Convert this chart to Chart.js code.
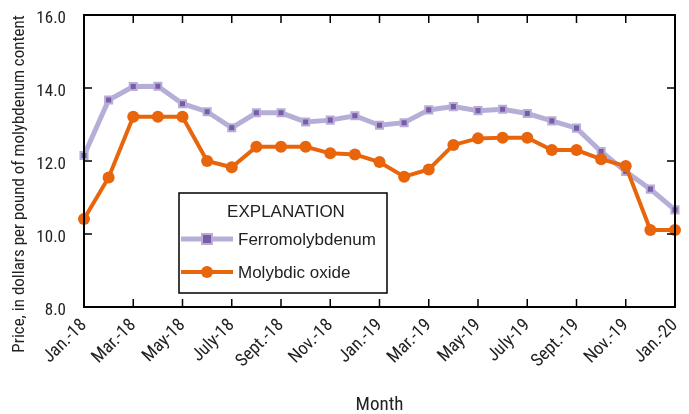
<!DOCTYPE html>
<html>
<head>
<meta charset="utf-8">
<script src="https://cdn.jsdelivr.net/npm/chart.js@4"></script>
<style>
html,body{margin:0;padding:0;background:#fff;}
#wrap{width:689px;height:414px;position:relative;}
</style>
</head>
<body>
<div id="wrap"><canvas id="c" width="689" height="414"></canvas></div>
<script>
const months = ["Jan.-18","Feb.-18","Mar.-18","Apr.-18","May-18","June-18","July-18","Aug.-18","Sept.-18","Oct.-18","Nov.-18","Dec.-18",
"Jan.-19","Feb.-19","Mar.-19","Apr.-19","May-19","June-19","July-19","Aug.-19","Sept.-19","Oct.-19","Nov.-19","Dec.-19","Jan.-20"];
const ferromolybdenum = [12.15,13.67,14.04,14.05,13.57,13.35,12.91,13.32,13.32,13.07,13.12,13.24,
12.98,13.05,13.40,13.49,13.38,13.42,13.30,13.10,12.90,12.26,11.71,11.23,10.66];
const molybdicOxide = [10.41,11.55,13.21,13.21,13.21,12.00,11.83,12.39,12.39,12.39,12.21,12.18,
11.97,11.57,11.77,12.44,12.62,12.64,12.64,12.30,12.30,12.05,11.86,10.11,10.11];
const yTicks = [8,10,12,14,16];
const yTitle = 'Price, in dollars per pound of molybdenum content';
const xTitle = 'Month';

const AXIS_FONT = "Roboto, 'Liberation Sans', Arial, sans-serif";
const LEG_FONT = "'Liberation Sans', Arial, sans-serif";
const FERRO_LINE = '#b5afd8';
const FERRO_FILL = '#7b5ba6';
const OXIDE = '#e8650c';
const TXT = '#222';

const framePlugin = {
  id: 'frame',
  afterDatasetsDraw(chart) {
    const {ctx, chartArea: a, scales: {x, y}} = chart;
    ctx.save();
    ctx.strokeStyle = '#000';
    ctx.lineWidth = 2;
    ctx.strokeRect(a.left, a.top, a.right - a.left, a.bottom - a.top);
    ctx.lineWidth = 1.5;
    const tl = 8;
    ctx.beginPath();
    yTicks.forEach(v => {
      const py = y.getPixelForValue(v);
      ctx.moveTo(a.left, py); ctx.lineTo(a.left + tl, py);
      ctx.moveTo(a.right, py); ctx.lineTo(a.right - tl, py);
    });
    months.forEach((m, i) => {
      if (i % 2) return;
      const px = x.getPixelForValue(i);
      ctx.moveTo(px, a.bottom); ctx.lineTo(px, a.bottom - tl);
      ctx.moveTo(px, a.top); ctx.lineTo(px, a.top + tl);
    });
    ctx.stroke();
    ctx.restore();
  },
  afterDraw(chart) {
    const ctx = chart.ctx;
    ctx.save();
    // y-axis title
    ctx.save();
    ctx.translate(20, 184);
    ctx.rotate(-Math.PI / 2);
    ctx.fillStyle = TXT;
    ctx.font = 'condensed 17px ' + AXIS_FONT;
    ctx.textAlign = 'center';
    ctx.textBaseline = 'middle';
    ctx.fillText(yTitle, 0, 0);
    ctx.restore();
    // legend box
    const bx = 179, by = 193, bw = 208, bh = 100;
    ctx.fillStyle = '#fff';
    ctx.fillRect(bx, by, bw, bh);
    ctx.strokeStyle = '#000';
    ctx.lineWidth = 1.5;
    ctx.strokeRect(bx, by, bw, bh);
    ctx.fillStyle = TXT;
    ctx.font = '17px ' + LEG_FONT;
    ctx.textBaseline = 'middle';
    ctx.textAlign = 'center';
    ctx.fillText('EXPLANATION', 286, 212);
    ctx.textAlign = 'left';
    ctx.strokeStyle = FERRO_LINE; ctx.lineWidth = 5;
    ctx.beginPath(); ctx.moveTo(181, 239); ctx.lineTo(233, 239); ctx.stroke();
    ctx.fillStyle = FERRO_LINE; ctx.fillRect(201, 233, 12, 12);
    ctx.fillStyle = FERRO_FILL; ctx.fillRect(203, 235, 8, 8);
    ctx.fillStyle = TXT;
    ctx.fillText('Ferromolybdenum', 238, 240);
    ctx.strokeStyle = OXIDE; ctx.lineWidth = 4;
    ctx.beginPath(); ctx.moveTo(181, 272); ctx.lineTo(233, 272); ctx.stroke();
    ctx.fillStyle = OXIDE; ctx.beginPath(); ctx.arc(207, 272, 6, 0, Math.PI * 2); ctx.fill();
    ctx.fillStyle = TXT;
    ctx.fillText('Molybdic oxide', 238, 273);
    ctx.restore();
  }
};

new Chart(document.getElementById('c'), {
  type: 'line',
  data: {
    labels: months,
    datasets: [
      {
        label: 'Ferromolybdenum',
        data: ferromolybdenum,
        borderColor: FERRO_LINE,
        borderWidth: 5,
        pointStyle: 'rect',
        pointRadius: 5,
        pointBackgroundColor: FERRO_FILL,
        pointBorderColor: FERRO_LINE,
        pointBorderWidth: 2,
        tension: 0,
        order: 1
      },
      {
        label: 'Molybdic oxide',
        data: molybdicOxide,
        borderColor: OXIDE,
        borderWidth: 4,
        pointStyle: 'circle',
        pointRadius: 6,
        pointBackgroundColor: OXIDE,
        pointBorderColor: OXIDE,
        pointBorderWidth: 0,
        tension: 0,
        order: 0
      }
    ]
  },
  options: {
    responsive: false,
    animation: false,
    events: [],
    layout: {padding: {top: 15, right: 14, left: 0, bottom: 0}},
    plugins: {legend: {display: false}, tooltip: {enabled: false}},
    scales: {
      x: {
        type: 'category',
        offset: false,
        grid: {display: false, drawTicks: false},
        border: {display: false},
        ticks: {
          autoSkip: false,
          maxRotation: 45,
          minRotation: 45,
          padding: 8,
          color: TXT,
          font: {family: AXIS_FONT, size: 18, weight: 'condensed'},
          callback: function(v, i) { return i % 2 === 0 ? months[i] : ''; }
        },
        title: {display: true, text: xTitle, color: TXT, font: {family: AXIS_FONT, size: 19, weight: 'condensed'}, padding: {top: 0, bottom: -3}},
        afterFit(s) { s.height = 107; s.paddingLeft = 0; s.paddingRight = 0; }
      },
      y: {
        min: 8, max: 16,
        grid: {display: false, drawTicks: false},
        border: {display: false},
        afterBuildTicks(s) { s.ticks = yTicks.map(v => ({value: v})); },
        ticks: {
          padding: 18,
          labelOffset: 4,
          color: TXT,
          font: {family: AXIS_FONT, size: 17, weight: 'condensed'},
          callback: v => Number(v).toFixed(1)
        },
        afterFit(s) { s.width = 84; s.paddingTop = 0; s.paddingBottom = 0; }
      }
    }
  },
  plugins: [framePlugin]
});
</script>
</body>
</html>
